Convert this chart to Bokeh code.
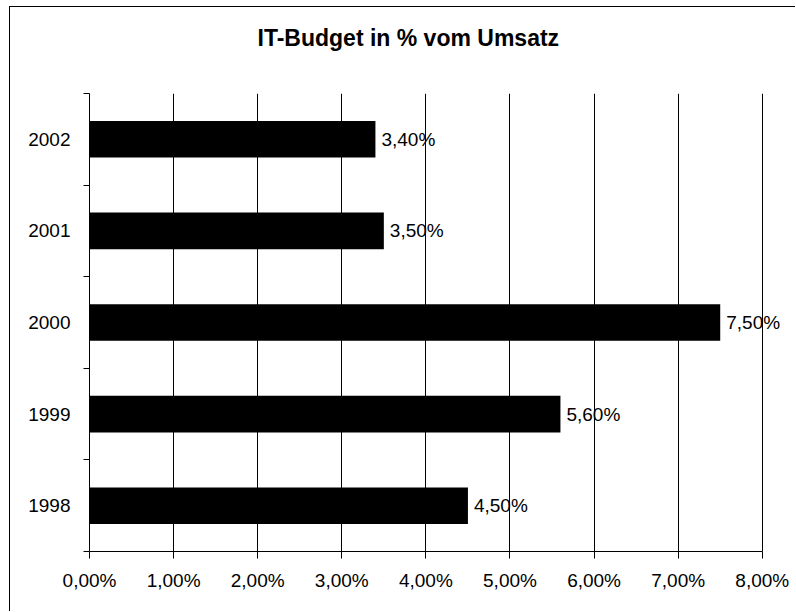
from bokeh.plotting import figure
from bokeh.models import ColumnDataSource, FixedTicker, Range1d, LabelSet, Title
from bokeh.embed import file_html
from bokeh.resources import INLINE
from bokeh.core.properties import value

# ---- data ----
years = ["1998", "1999", "2000", "2001", "2002"]
budget_pct = [4.5, 5.6, 7.5, 3.5, 3.4]
x_ticks = [0, 1, 2, 3, 4, 5, 6, 7, 8]
x_tick_labels = ["0,00%", "1,00%", "2,00%", "3,00%", "4,00%", "5,00%", "6,00%", "7,00%", "8,00%"]
title_text = "IT-Budget in % vom Umsatz"

FONT = "Liberation Sans"

ypos = [i + 0.5 for i in range(len(years))]
labels = [("%.2f" % v).replace(".", ",") + "%" for v in budget_pct]
src = ColumnDataSource(dict(y=ypos, v=budget_pct, lab=labels))

# frame extends a bit past 8 % so the "7,50%" label is not clipped; axis/grid stop at 8 %
p = figure(width=786, height=605, output_backend="svg", toolbar_location=None,
           x_range=Range1d(0, 8.3), y_range=Range1d(0, len(years)),
           min_border_left=79, min_border_right=9, min_border_top=86, min_border_bottom=61)

p.title.text = title_text
p.title.text_font = FONT
p.title.text_font_size = "23px"
p.title.text_font_style = "bold"
p.title.text_color = "black"
p.title.align = "left"
p.title.offset = 168
p.title.standoff = 10

# empty spacer between the title and the plot area
p.add_layout(Title(text=" ", text_font_size="1px", standoff=35), "above")

p.hbar(y="y", right="v", left=0, height=0.4, source=src, fill_color="black", line_color=None)
p.add_layout(LabelSet(x="v", y="y", text="lab", source=src, x_offset=6, text_baseline="middle",
                      text_align="left", text_font=value(FONT), text_font_size="19px",
                      text_color="black"))

p.outline_line_color = None
p.background_fill_color = "white"
p.border_fill_color = "white"

# x axis
p.xaxis.ticker = FixedTicker(ticks=x_ticks)
p.xaxis.bounds = (x_ticks[0], x_ticks[-1])
p.xaxis.major_label_overrides = {t: l for t, l in zip(x_ticks, x_tick_labels)}
p.xaxis.major_tick_out = 7
p.xaxis.major_tick_in = 0
p.xaxis.minor_tick_out = 0
p.xaxis.minor_tick_in = 0
p.xaxis.axis_line_color = "black"
p.xaxis.major_tick_line_color = "black"
p.xaxis.major_label_text_font = FONT
p.xaxis.major_label_text_font_size = "19px"
p.xaxis.major_label_text_color = "black"
p.xaxis.major_label_standoff = 11

# y axis
p.yaxis.ticker = FixedTicker(ticks=ypos, minor_ticks=list(range(len(years) + 1)))
p.yaxis.major_label_overrides = {y: l for y, l in zip(ypos, years)}
p.yaxis.major_tick_out = 0
p.yaxis.major_tick_in = 0
p.yaxis.minor_tick_out = 6
p.yaxis.minor_tick_in = 0
p.yaxis.minor_tick_line_color = "black"
p.yaxis.axis_line_color = "black"
p.yaxis.major_label_text_font = FONT
p.yaxis.major_label_text_font_size = "19px"
p.yaxis.major_label_text_color = "black"
p.yaxis.major_label_standoff = 13

p.xgrid.grid_line_color = "black"
p.xgrid.ticker = FixedTicker(ticks=x_ticks[1:])
p.ygrid.grid_line_color = None

p.styles = {"margin-left": "9px", "margin-top": "6px",
            "border-left": "1px solid black", "border-top": "1px solid black"}

open("out.html", "w").write(file_html(p, INLINE))
